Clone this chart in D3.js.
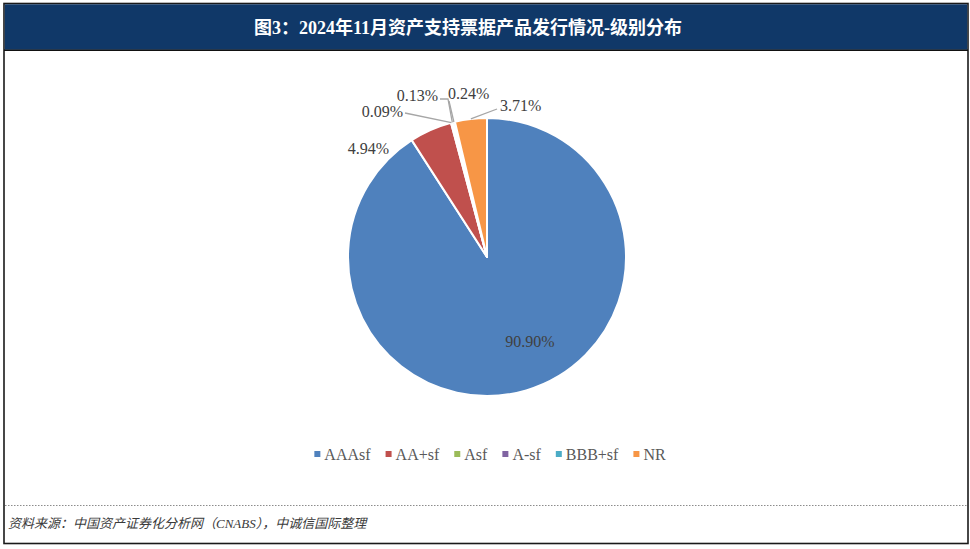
<!DOCTYPE html>
<html>
<head>
<meta charset="utf-8">
<script src="https://cdn.jsdelivr.net/npm/d3@7"></script>
<style>
  html, body { margin: 0; padding: 0; background: #fff; }
  svg { display: block; }
</style>
</head>
<body>
<svg id="chart" width="970" height="549"></svg>
<script>
// ---------------- data ----------------
const title = "图3：2024年11月资产支持票据产品发行情况-级别分布";
const source = "资料来源：中国资产证券化分析网（CNABS），中诚信国际整理";
const categories = ["AAAsf", "AA+sf", "Asf", "A-sf", "BBB+sf", "NR"];
const shares = [90.90, 4.94, 0.09, 0.13, 0.24, 3.71];
const valueLabels = ["90.90%", "4.94%", "0.09%", "0.13%", "0.24%", "3.71%"];

// ---------------- styles / layout ----------------
const sliceColors = ["#4f81bd", "#c0504d", "#9bbb59", "#8064a2", "#4bacc6", "#f79646"];
const W = 970, H = 549;
const cx = 487, cy = 257, R = 139;
const serif = "'Liberation Serif', 'Times New Roman', 'Noto Sans CJK SC', serif";
// label placement relative to pie centre: [dx, dy, anchor, leader elbow (relative) or null]
const labelLayout = [
  { dx: 43,  dy: 84,   anchor: "middle", leader: null },
  { dx: -98, dy: -109, anchor: "end",    leader: null },
  { dx: -84, dy: -146, anchor: "end",    leader: [[-82, -144]] },
  { dx: -49, dy: -162, anchor: "end",    leader: [[-47, -158], [-39, -158]] },
  { dx: -39, dy: -164, anchor: "start",  leader: [[-38, -156]] },
  { dx: 13,  dy: -152, anchor: "start",  leader: [[10, -148]] }
];

const svg = d3.select("#chart");

// outer frame
svg.append("rect").attr("x", 4).attr("y", 3.5).attr("width", 964).attr("height", 540)
  .attr("fill", "#fff").attr("stroke", "#1a1a1a").attr("stroke-width", 1.6);
// title bar
svg.append("rect").attr("x", 4.8).attr("y", 4.3).attr("width", 962.4).attr("height", 45.5)
  .attr("fill", "#103868");
svg.append("line").attr("x1", 4).attr("x2", 968).attr("y1", 50.2).attr("y2", 50.2)
  .attr("stroke", "#111").attr("stroke-width", 1.4);
svg.append("text").attr("x", 468).attr("y", 27.5).attr("dy", "0.35em")
  .attr("text-anchor", "middle").attr("fill", "#fff")
  .attr("font-family", serif).attr("font-weight", "bold").attr("font-size", 18)
  .text(title);

// dotted separator + source
svg.append("line").attr("x1", 5).attr("x2", 967).attr("y1", 505.5).attr("y2", 505.5)
  .attr("stroke", "#8c8c8c").attr("stroke-width", 1).attr("stroke-dasharray", "1.5,1.5");
svg.append("text").attr("x", 8).attr("y", 523).attr("dy", "0.35em")
  .attr("fill", "#3a3a3a").attr("font-family", serif).attr("font-style", "italic")
  .attr("font-size", 13).text(source);

// pie
const data = categories.map((c, i) => ({ cat: c, value: shares[i], label: valueLabels[i], i }));
const pie = d3.pie().sort(null).value(d => d.value);
const arcs = pie(data);
const arc = d3.arc().innerRadius(0).outerRadius(R);
const g = svg.append("g").attr("transform", `translate(${cx},${cy})`);
g.selectAll("path.slice").data(arcs).join("path").attr("class", "slice")
  .attr("d", arc).attr("fill", d => sliceColors[d.data.i])
  .attr("stroke", "#fff").attr("stroke-width", 2).attr("stroke-linejoin", "round");

// leaders
arcs.forEach(a => {
  const L = labelLayout[a.data.i];
  if (!L.leader) return;
  const mid = (a.startAngle + a.endAngle) / 2;
  const p0 = [R * Math.sin(mid), -R * Math.cos(mid)];
  const pts = [p0].concat(L.leader.slice().reverse());
  g.append("path").attr("d", d3.line()(pts)).attr("fill", "none")
    .attr("stroke", "#a6a6a6").attr("stroke-width", 1.3);
});

// value labels
g.selectAll("text.val").data(arcs).join("text").attr("class", "val")
  .attr("x", d => labelLayout[d.data.i].dx).attr("y", d => labelLayout[d.data.i].dy)
  .attr("dy", "0.35em").attr("text-anchor", d => labelLayout[d.data.i].anchor)
  .attr("font-family", serif).attr("font-size", 16).attr("fill", "#404040")
  .text(d => d.data.label);

// legend
const legend = svg.append("g");
const items = legend.selectAll("g").data(categories).join("g");
items.append("rect").attr("width", 6).attr("height", 6).attr("y", -3)
  .attr("fill", (d, i) => sliceColors[i]);
items.append("text").attr("x", 10).attr("dy", "0.35em")
  .attr("font-family", serif).attr("font-size", 16).attr("fill", "#595959")
  .text(d => d);
let xPos = 0;
const offs = [];
items.each(function () {
  const w = d3.select(this).select("text").node().getComputedTextLength();
  offs.push(xPos);
  xPos += 10 + w + 15;
});
const totalW = xPos - 15;
const lx0 = 490 - totalW / 2;
items.attr("transform", (d, i) => `translate(${lx0 + offs[i]},454)`);
</script>
</body>
</html>
